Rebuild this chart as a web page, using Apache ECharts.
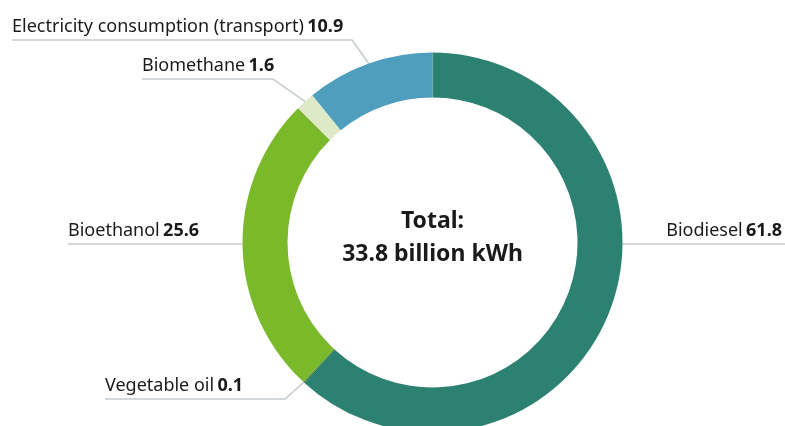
<!DOCTYPE html>
<html>
<head>
<meta charset="utf-8">
<script src="https://cdn.jsdelivr.net/npm/echarts@6/dist/echarts.min.js"></script>
<style>
  html, body { margin: 0; padding: 0; background: #ffffff; }
  #chart { width: 785px; height: 426px; }
</style>
</head>
<body>
<div id="chart"></div>
<script>
// Renewable energy used in transport, share in percent
const categories = ['Biodiesel', 'Vegetable oil', 'Bioethanol', 'Biomethane', 'Electricity consumption (transport)'];
const shares = [61.8, 0.1, 25.6, 1.6, 10.9];
const shareLabels = ['61.8', '0.1', '25.6', '1.6', '10.9'];
const totalLabel = 'Total:\n33.8 billion kWh';

const colors = ['#2d8170', '#4f8a2a', '#7ab929', '#dde9c7', '#4f9ebe'];

// Ring geometry (pixels)
const cx = 432.5, cy = 242.5, rInner = 145, rOuter = 190;

// Where each label's underline runs: text start, line height, bend
const labelPlacement = {
  'Biodiesel':                          { side: 'right', textX: 782, lineEnd: 785, lineY: 244 },
  'Vegetable oil':                      { side: 'left', textX: 105, lineY: 399, bendX: 285 },
  'Bioethanol':                         { side: 'left', textX: 68, lineY: 244 },
  'Biomethane':                         { side: 'left', textX: 142, lineY: 79, bendX: 273 },
  'Electricity consumption (transport)':{ side: 'left', textX: 12, lineY: 40, bendX: 352 }
};

const chart = echarts.init(document.getElementById('chart'), null, { renderer: 'canvas' });

chart.setOption({
  animation: false,
  backgroundColor: '#ffffff',
  graphic: [{
    type: 'text',
    x: cx,
    y: 238,
    style: {
      text: totalLabel,
      fill: '#1a1a1a',
      font: 'bold 23px "Noto Sans", sans-serif',
      lineHeight: 33,
      align: 'center',
      verticalAlign: 'middle'
    }
  }],
  series: [{
    type: 'pie',
    center: [cx, cy],
    radius: [rInner, rOuter],
    startAngle: 90,
    clockwise: true,
    avoidLabelOverlap: false,
    minShowLabelAngle: 0,
    itemStyle: { borderWidth: 0 },
    emphasis: { disabled: true },
    label: {
      show: true,
      position: 'outside',
      formatter: function (p) {
        return '{n|' + p.name + '} {v|' + shareLabels[p.dataIndex] + '}';
      },
      rich: {
        n: { fontFamily: '"Noto Sans", sans-serif', fontSize: 18, color: '#1a1a1a', lineHeight: 22 },
        v: { fontFamily: '"Noto Sans", sans-serif', fontSize: 18, fontWeight: 'bold', color: '#1a1a1a', lineHeight: 22 }
      }
    },
    labelLine: {
      show: true,
      length: 10,
      length2: 10,
      lineStyle: { color: '#c3cbcf', width: 1.5 }
    },
    labelLayout: function (params) {
      const name = categories[params.dataIndex];
      const lp = labelPlacement[name];
      const anchor = params.labelLinePoints[0];
      let points;
      if (lp.side === 'right') {
        const dy = lp.lineY - cy;
        const ax = cx + Math.sqrt(rOuter * rOuter - dy * dy);
        points = [[ax, lp.lineY], [ax, lp.lineY], [lp.lineEnd, lp.lineY]];
        return { x: lp.textX, y: lp.lineY - 2, align: 'right', verticalAlign: 'bottom', labelLinePoints: points };
      }
      if (lp.bendX === undefined) {
        const dy = lp.lineY - cy;
        const ax = cx - Math.sqrt(rOuter * rOuter - dy * dy);
        points = [[ax, lp.lineY], [ax, lp.lineY], [lp.textX, lp.lineY]];
      } else {
        points = [[anchor[0], anchor[1]], [lp.bendX, lp.lineY], [lp.textX, lp.lineY]];
      }
      return { x: lp.textX, y: lp.lineY - 2, align: 'left', verticalAlign: 'bottom', labelLinePoints: points };
    },
    data: categories.map(function (c, i) {
      return { name: c, value: shares[i], itemStyle: { color: colors[i] } };
    })
  }]
});
</script>
</body>
</html>
